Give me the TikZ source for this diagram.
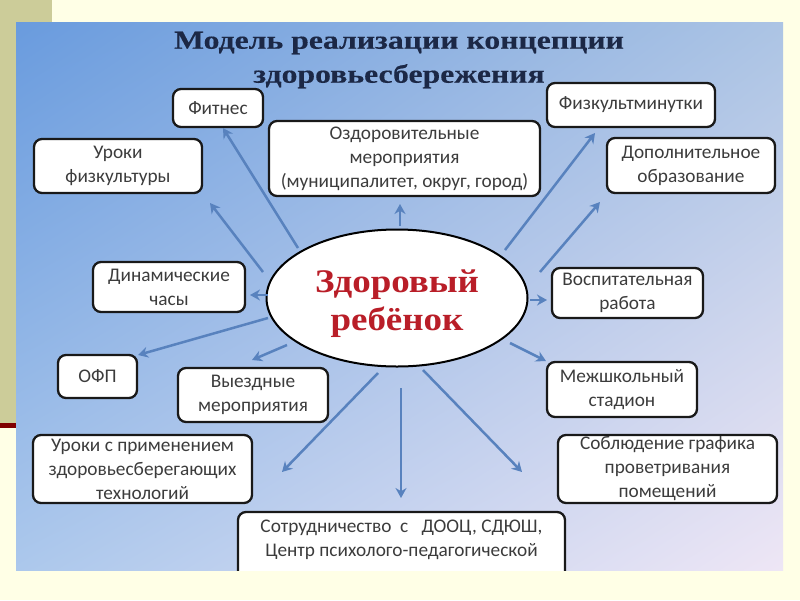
\documentclass[tikz,border=0pt]{standalone}
\usepackage{fontspec}
\setmainfont{Carlito}
\newfontfamily\titlefont[FakeStretch=1.22, BoldFeatures={FakeBold=0.3}]{Liberation Serif}
\newfontfamily\kidfont[FakeStretch=1.12]{Liberation Serif}
\usetikzlibrary{arrows.meta,shapes.geometric,shadings}

\definecolor{pagebg}{RGB}{255,255,230}
\definecolor{stripbg}{RGB}{204,204,153}
\definecolor{redline}{RGB}{128,0,0}
\definecolor{titleblue}{RGB}{28,40,70}
\definecolor{kidred}{RGB}{185,30,40}
\definecolor{arrowblue}{RGB}{88,130,190}
\definecolor{boxtext}{RGB}{60,60,60}
\definecolor{panelUL}{RGB}{105,155,222}
\definecolor{panelUR}{RGB}{172,196,228}
\definecolor{panelLL}{RGB}{172,200,236}
\definecolor{panelLR}{RGB}{238,230,245}

\begin{document}
\begin{tikzpicture}[x=1pt, y=-1pt,
    box/.style={draw=black!90, line width=2.3pt, rounded corners=8pt, fill=white, align=center,
      text=boxtext, font=\fontsize{19.3}{24}\selectfont, inner sep=0pt},
    spoke/.style={draw=arrowblue, line width=2.5pt, -{Stealth[length=10pt, width=11pt]}}]

    \useasboundingbox (0,0) rectangle (800,600);
    % page and panel background
    \fill[pagebg] (0,0) rectangle (800,600);
    \fill[stripbg] (0,0) rectangle (52,425);
    \fill[redline] (0,423) rectangle (52,428);
    \shade[upper left=panelUL, upper right=panelUR, lower left=panelLL, lower right=panelLR] (16,22) rectangle (783,570);

    \begin{scope}
    \clip (16,22) rectangle (783,570);

    % title
    \node[font=\titlefont\bfseries\fontsize{26}{34}\selectfont, text=titleblue, align=center] (title) at (399,60)
      {Модель реализации концепции\\здоровьесбережения};

    % centre
    \node[ellipse, draw=black, line width=2pt, fill=white, minimum width=261pt, minimum height=137pt,
      inner sep=0pt, font=\kidfont\bfseries\fontsize{33}{38}\selectfont, text=kidred]
      (kid) at (397,298) {\raisebox{-6pt}[\height][\depth]{\begin{tabular}{@{}c@{}}Здоровый\\ребёнок\end{tabular}}};

    % boxes
    \node[box, minimum width=90pt, minimum height=38pt] (fitness) at (218,108) {Фитнес};
    \node[box, minimum width=168pt, minimum height=54pt] (urokifiz) at (118,166) {Уроки\\физкультуры};
    \node[box, minimum width=271pt, minimum height=75pt] (ozdor) at (404.5,158.5)
      {Оздоровительные\\мероприятия\\(муниципалитет, округ, город)};
    \node[box, minimum width=168pt, minimum height=44pt] (fizmin) at (631,105) {Физкультминутки};
    \node[box, minimum width=168pt, minimum height=55pt] (dopobr) at (691,165.5) {Дополнительное\\образование};
    \node[box, minimum width=152pt, minimum height=50pt] (dinam) at (169,287) {Динамические\\часы};
    \node[box, minimum width=79pt, minimum height=43pt] (ofp) at (97.5,376.5) {ОФП};
    \node[box, minimum width=150pt, minimum height=54pt] (vyezd) at (253,395) {Выездные\\мероприятия};
    \node[box, minimum width=151pt, minimum height=50pt] (vospit) at (627.5,293) {Воспитательная\\работа};
    \node[box, minimum width=150pt, minimum height=55pt] (mezh) at (622,389.5) {Межшкольный\\стадион};
    \node[box, minimum width=219pt, minimum height=68pt] (sobl) at (667.5,469)
      {Соблюдение графика\\проветривания\\помещений};
    \node[box, minimum width=219pt, minimum height=68pt] (urokiprim) at (142.5,469)
      {Уроки с применением\\здоровьесберегающих\\технологий};
    \node[box, minimum width=327pt, minimum height=84pt] (sotr) at (401.5,554)
      {Сотрудничество\ \ с\ \ \ ДООЦ, СДЮШ,\\Центр психолого-педагогической\\\strut};

    % arrow ends
    \coordinate (fitness-s) at (298,248);   \coordinate (fitness-t) at (223,128);
    \coordinate (urokifiz-s) at (263,272);  \coordinate (urokifiz-t) at (210,203);
    \coordinate (ozdor-s) at (400,226);     \coordinate (ozdor-t) at (400,204);
    \coordinate (fizmin-s) at (505,250);    \coordinate (fizmin-t) at (595,133);
    \coordinate (dopobr-s) at (540,272);    \coordinate (dopobr-t) at (600,202);
    \coordinate (dinam-s) at (268,295);     \coordinate (dinam-t) at (250,295);
    \coordinate (ofp-s) at (268,318);       \coordinate (ofp-t) at (138,355);
    \coordinate (vyezd-s) at (287,345);     \coordinate (vyezd-t) at (252,360);
    \coordinate (urokiprim-s) at (378,373); \coordinate (urokiprim-t) at (282,472);
    \coordinate (vospit-s) at (530,300);    \coordinate (vospit-t) at (547,300);
    \coordinate (mezh-s) at (510,343);      \coordinate (mezh-t) at (546,361);
    \coordinate (sobl-s) at (423,370);      \coordinate (sobl-t) at (522,472);
    \coordinate (sotr-s) at (401,388);      \coordinate (sotr-t) at (401,498);

    \foreach \n in {fitness,urokifiz,ozdor,fizmin,dopobr,dinam,ofp,vyezd,urokiprim,vospit,mezh,sobl,sotr}
      \draw[spoke] (\n-s) -- (\n-t);
    \end{scope}
\end{tikzpicture}
\end{document}
